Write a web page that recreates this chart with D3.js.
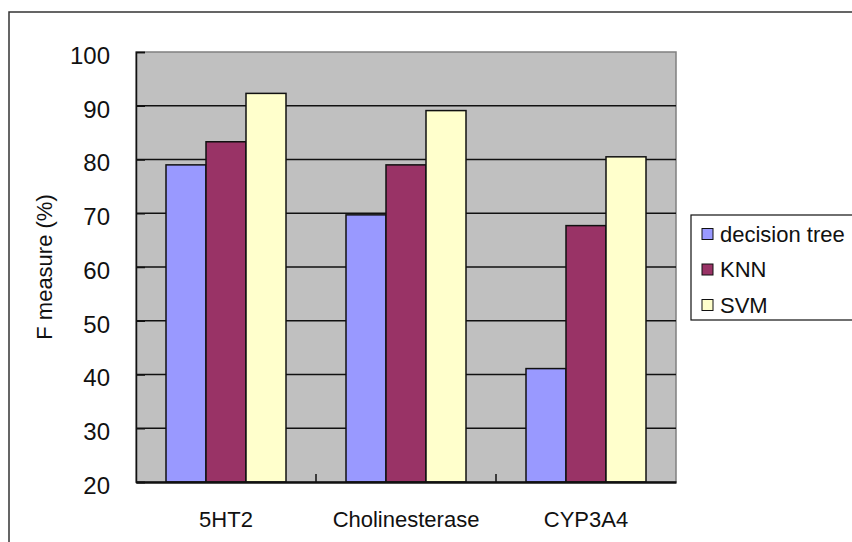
<!DOCTYPE html>
<html>
<head>
<meta charset="utf-8">
<script src="https://cdn.jsdelivr.net/npm/d3@7"></script>
<style>
  html, body { margin: 0; padding: 0; background: #fff; }
  svg { display: block; font-family: "Liberation Sans", Arial, sans-serif; }
</style>
</head>
<body>
<svg id="chart" width="852" height="542"></svg>
<script>
// Chart data
const categories = ["5HT2", "Cholinesterase", "CYP3A4"];
const seriesNames = ["decision tree", "KNN", "SVM"];
const decisionTree = [79.0, 69.7, 41.1];
const knn = [83.3, 79.0, 67.7];
const svmValues = [92.3, 89.1, 80.5];
const yTicks = [20, 30, 40, 50, 60, 70, 80, 90, 100];
const seriesColors = ["#9999FF", "#993366", "#FFFFCC"];

const seriesValues = [decisionTree, knn, svmValues];

const svg = d3.select("#chart");

// Layout
const plot = { left: 136, top: 52, right: 676, bottom: 482 };

// Outer chart frame (continues past the right and bottom edges)
svg.append("rect")
  .attr("x", 9).attr("y", 12)
  .attr("width", 900).attr("height", 600)
  .attr("fill", "#fff")
  .attr("stroke", "#333")
  .attr("stroke-width", 1.5);

// Scales
const x0 = d3.scaleBand().domain(categories).range([plot.left, plot.right]).padding(0);
const x1 = d3.scaleBand().domain(seriesNames).range([0, x0.bandwidth()])
  .paddingInner(0).paddingOuter(0.75);
const y = d3.scaleLinear().domain([20, 100]).range([plot.bottom, plot.top]);
const color = d3.scaleOrdinal().domain(seriesNames).range(seriesColors);

// Plot area background
svg.append("rect")
  .attr("x", plot.left).attr("y", plot.top)
  .attr("width", plot.right - plot.left).attr("height", plot.bottom - plot.top)
  .attr("fill", "#C0C0C0")
  .attr("stroke", "#808080")
  .attr("stroke-width", 1.5);

// Horizontal gridlines
svg.append("g")
  .selectAll("line")
  .data(yTicks.filter(t => t > 20 && t < 100))
  .join("line")
  .attr("x1", plot.left).attr("x2", plot.right)
  .attr("y1", d => y(d)).attr("y2", d => y(d))
  .attr("stroke", "#111").attr("stroke-width", 1.5);

// Bars
const rows = categories.map((c, i) => ({
  category: c,
  values: seriesNames.map((s, j) => ({ series: s, value: seriesValues[j][i] }))
}));

svg.append("g")
  .selectAll("g")
  .data(rows)
  .join("g")
  .attr("transform", d => `translate(${x0(d.category)},0)`)
  .selectAll("rect")
  .data(d => d.values)
  .join("rect")
  .attr("x", d => x1(d.series))
  .attr("y", d => y(d.value))
  .attr("width", x1.bandwidth())
  .attr("height", d => y(20) - y(d.value))
  .attr("fill", d => color(d.series))
  .attr("stroke", "#111")
  .attr("stroke-width", 1.5);

// Y axis
const yAxis = d3.axisLeft(y).tickValues(yTicks).tickSize(-9).tickPadding(0).tickFormat(d3.format("d"));
const yAxisG = svg.append("g")
  .attr("transform", `translate(${plot.left},0)`)
  .call(yAxis);
yAxisG.select(".domain").attr("stroke", "#111").attr("stroke-width", 1.5);
yAxisG.selectAll(".tick line").attr("stroke", "#111").attr("stroke-width", 1.5);
yAxisG.selectAll(".tick text")
  .attr("x", -26)
  .attr("dy", "0.35em")
  .attr("y", 3)
  .attr("fill", "#111")
  .style("font-size", "24px")
  .style("font-family", "'Liberation Sans', Arial, sans-serif");

// X axis
const xAxis = d3.axisBottom(x0).tickSize(0).tickPadding(0);
const xAxisG = svg.append("g")
  .attr("transform", `translate(0,${plot.bottom})`)
  .call(xAxis);
xAxisG.select(".domain").attr("stroke", "#111").attr("stroke-width", 2.5);
xAxisG.selectAll(".tick text")
  .attr("y", 45)
  .attr("dy", 0)
  .attr("fill", "#111")
  .style("font-size", "22px")
  .style("font-family", "'Liberation Sans', Arial, sans-serif");

// Category separator ticks (pointing up inside the plot)
svg.append("g")
  .selectAll("line")
  .data(categories.slice(1))
  .join("line")
  .attr("x1", d => x0(d)).attr("x2", d => x0(d))
  .attr("y1", plot.bottom).attr("y2", plot.bottom - 8)
  .attr("stroke", "#111").attr("stroke-width", 1.5);

// Y axis title
svg.append("text")
  .attr("transform", `translate(44,${(plot.top + plot.bottom) / 2}) rotate(-90)`)
  .attr("text-anchor", "middle")
  .attr("dominant-baseline", "central")
  .attr("fill", "#111")
  .style("font-size", "22px")
  .text("F measure (%)");

// Legend
const legend = svg.append("g");
legend.append("rect")
  .attr("x", 691).attr("y", 215)
  .attr("width", 200).attr("height", 105)
  .attr("fill", "#fff")
  .attr("stroke", "#111").attr("stroke-width", 1.2);

const legendY = d3.scalePoint().domain(seriesNames).range([234, 305]);
const items = legend.selectAll("g.item")
  .data(seriesNames)
  .join("g")
  .attr("class", "item")
  .attr("transform", d => `translate(0,${legendY(d)})`);
items.append("rect")
  .attr("x", 702).attr("y", -5.5)
  .attr("width", 11).attr("height", 11)
  .attr("fill", d => color(d))
  .attr("stroke", "#111").attr("stroke-width", 1);
items.append("text")
  .attr("x", 720)
  .attr("dominant-baseline", "central")
  .attr("fill", "#111")
  .style("font-size", "22px")
  .text(d => d);
</script>
</body>
</html>
